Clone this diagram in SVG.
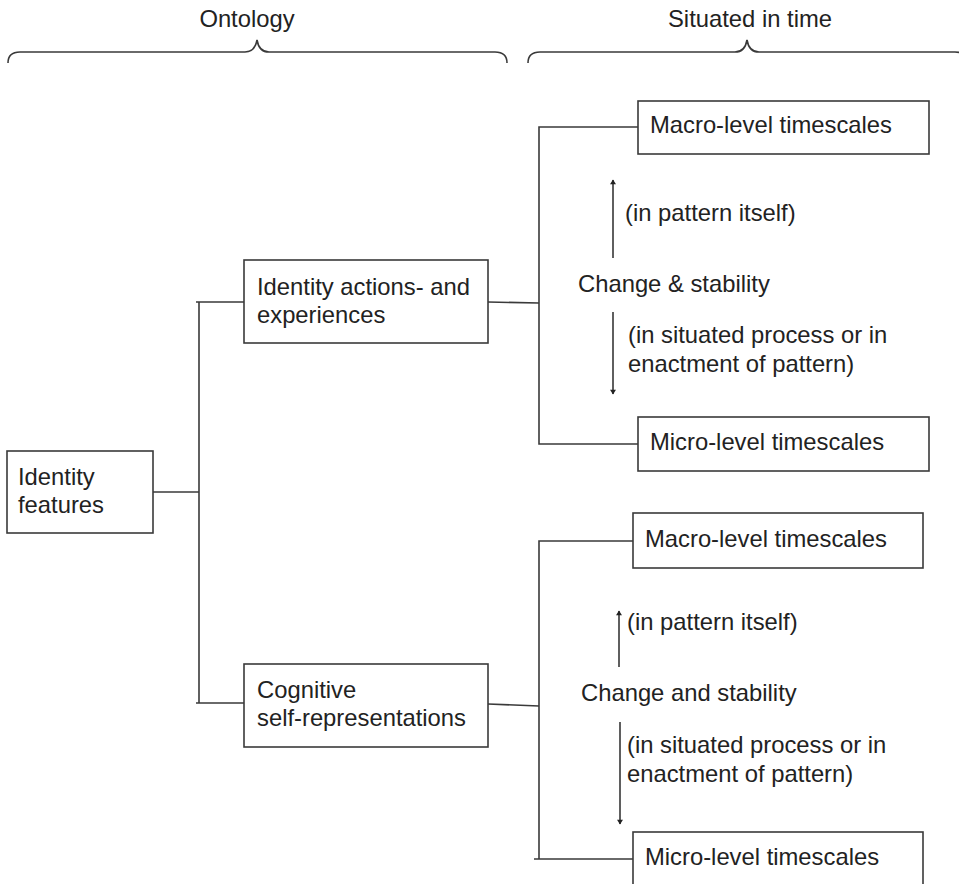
<svg xmlns="http://www.w3.org/2000/svg" width="959" height="884" viewBox="0 0 959 884">
<defs>
<style>
.t{font-family:"Liberation Sans",Arial,sans-serif;font-size:23.8px;fill:#222}
.box{fill:#fff;stroke:#3a3a3a;stroke-width:1.6}
.ln{fill:none;stroke:#3a3a3a;stroke-width:1.6}
.ar{fill:none;stroke:#2a2a2a;stroke-width:1.5}
</style>
<marker id="ah" viewBox="0 0 8 10" refX="7" refY="5" markerWidth="6" markerHeight="6" orient="auto" markerUnits="userSpaceOnUse">
<path d="M0,0 L8,5 L0,10 z" fill="#222"/>
</marker>
</defs>
<rect width="959" height="884" fill="#fff"/>
<g id="braces">
<path class="ln" d="M8 63 Q8 52 20 52 L245 52 Q255 52 257 40 Q259 52 269 52 L495 52 Q507 52 507 63"/>
<text class="t" x="247" y="27" text-anchor="middle">Ontology</text>
<path class="ln" d="M528 63 Q528 52 540 52 L735 52 Q745 52 747 40 Q749 52 759 52 L955 52 Q967 52 967 63"/>
<text class="t" x="750" y="27" text-anchor="middle">Situated in time</text>
</g>
<g id="connectors">
<path class="ln" d="M153 492 L199 492"/>
<path class="ln" d="M196 302 L244 302 M199 302 L199 703 M196 703 L244 703"/>
<path class="ln" d="M488 302 L539 303"/>
<path class="ln" d="M638 127 L539 127 L539 444 L638 444"/>
<path class="ln" d="M488 704 L539 706"/>
<path class="ln" d="M633 541 L539 541 L539 859 L534 859 M539 859 L633 859"/>
<path class="ar" d="M613 258 L613 180" marker-end="url(#ah)"/>
<path class="ar" d="M613 312 L613 394" marker-end="url(#ah)"/>
<path class="ar" d="M619 667 L619 611" marker-end="url(#ah)"/>
<path class="ar" d="M620 722 L620 824" marker-end="url(#ah)"/>
</g>
<g id="identity-features">
<rect class="box" x="7" y="451" width="146" height="82"/>
<text class="t" x="18" y="485">Identity</text>
<text class="t" x="18" y="513">features</text>
</g>
<g id="identity-actions">
<rect class="box" x="244" y="260" width="244" height="83"/>
<text class="t" x="257" y="295">Identity actions- and</text>
<text class="t" x="257" y="323">experiences</text>
</g>
<g id="cognitive">
<rect class="box" x="244" y="664" width="244" height="83"/>
<text class="t" x="257" y="698">Cognitive</text>
<text class="t" x="257" y="726">self-representations</text>
</g>
<g id="macro-1">
<rect class="box" x="638" y="101" width="291" height="53"/>
<text class="t" x="650" y="133">Macro-level timescales</text>
</g>
<g id="micro-1">
<rect class="box" x="638" y="417" width="291" height="54"/>
<text class="t" x="650" y="450">Micro-level timescales</text>
</g>
<g id="change-1">
<text class="t" x="625" y="221">(in pattern itself)</text>
<text class="t" x="578" y="292">Change &amp; stability</text>
<text class="t" x="628" y="343">(in situated process or in</text>
<text class="t" x="628" y="372">enactment of pattern)</text>
</g>
<g id="macro-2">
<rect class="box" x="633" y="513" width="290" height="55"/>
<text class="t" x="645" y="547">Macro-level timescales</text>
</g>
<g id="micro-2">
<rect class="box" x="633" y="832" width="290" height="60"/>
<text class="t" x="645" y="865">Micro-level timescales</text>
</g>
<g id="change-2">
<text class="t" x="627" y="630">(in pattern itself)</text>
<text class="t" x="581" y="701">Change and stability</text>
<text class="t" x="627" y="753">(in situated process or in</text>
<text class="t" x="627" y="782">enactment of pattern)</text>
</g>
</svg>
